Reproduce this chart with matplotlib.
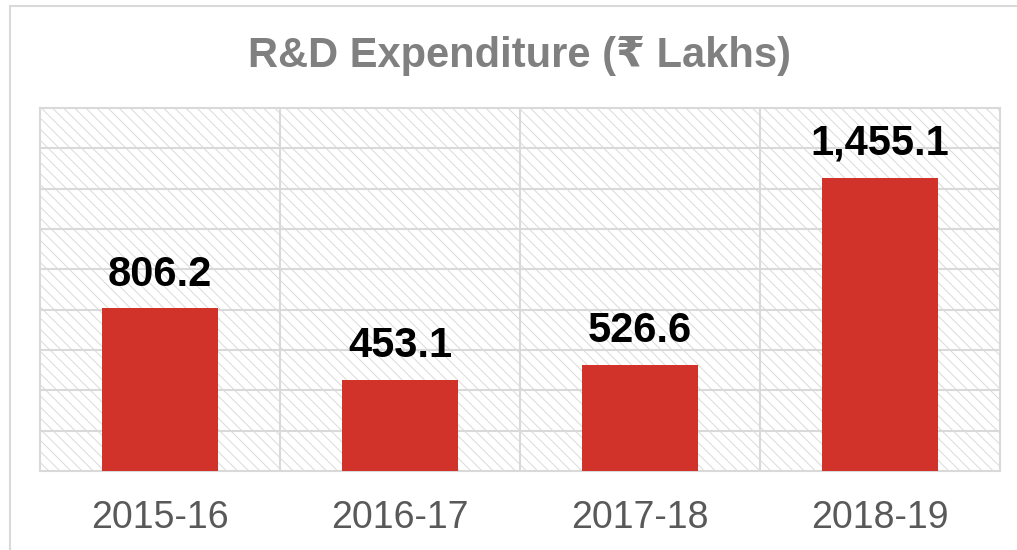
import matplotlib
matplotlib.use("Agg")
import matplotlib.pyplot as plt
from matplotlib.patches import Rectangle

categories = ["2015-16", "2016-17", "2017-18", "2018-19"]
values = [806.2, 453.1, 526.6, 1455.1]
labels = ["806.2", "453.1", "526.6", "1,455.1"]
title = "R&D Expenditure (₹ Lakhs)"

plt.rcParams['font.family'] = ['Liberation Sans', 'DejaVu Sans']
plt.rcParams['hatch.color'] = '#dadada'
plt.rcParams['hatch.linewidth'] = 0.7

W, H = 1017, 550
fig = plt.figure(figsize=(W / 100, H / 100), dpi=100)

# outer chart frame
fig.patches.append(Rectangle((10 / W, -0.05), 1.1, 1 - 6 / H + 0.05,
                             transform=fig.transFigure, fill=False,
                             edgecolor='#d9d9d9', linewidth=1.5, zorder=0))

ax = fig.add_axes([40 / W, 1 - 471 / H, (1000 - 40) / W, (471 - 108) / H])
ax.patch.set_facecolor('white')
ax.patch.set_hatch('\\\\\\')
ax.patch.set_edgecolor('#dadada')

x = list(range(len(categories)))
ax.bar(x, values, width=0.48, color='#D1332A', zorder=3)

ax.set_xlim(-0.5, len(categories) - 0.5)
ax.set_ylim(0, 1800)
ax.set_yticks(range(0, 1801, 200))
ax.set_yticklabels([])
ax.tick_params(axis='y', length=0)
for yv in range(200, 1800, 200):
    ax.axhline(yv, color='#d9d9d9', linewidth=1.5, zorder=1)
for xv in [0.5, 1.5, 2.5]:
    ax.axvline(xv, color='#d9d9d9', linewidth=1.5, zorder=1)
for s in ax.spines.values():
    s.set_color('#d9d9d9')
    s.set_linewidth(1.5)

ax.set_xticks(x)
ax.set_xticklabels(categories, fontsize=27, color='#595959')
ax.tick_params(axis='x', length=0, pad=21)

for xi, v, lab in zip(x, values, labels):
    ax.annotate(lab, (xi, v), xytext=(0, 10), textcoords='offset points',
                ha='center', va='bottom', fontsize=30, fontweight='bold',
                color='black', zorder=4)

fig.text(520 / W, 1 - 67 / H, title, ha='center', va='baseline',
         fontsize=30, fontweight='bold', color='#808080')

fig.savefig("out.png", dpi=100)
